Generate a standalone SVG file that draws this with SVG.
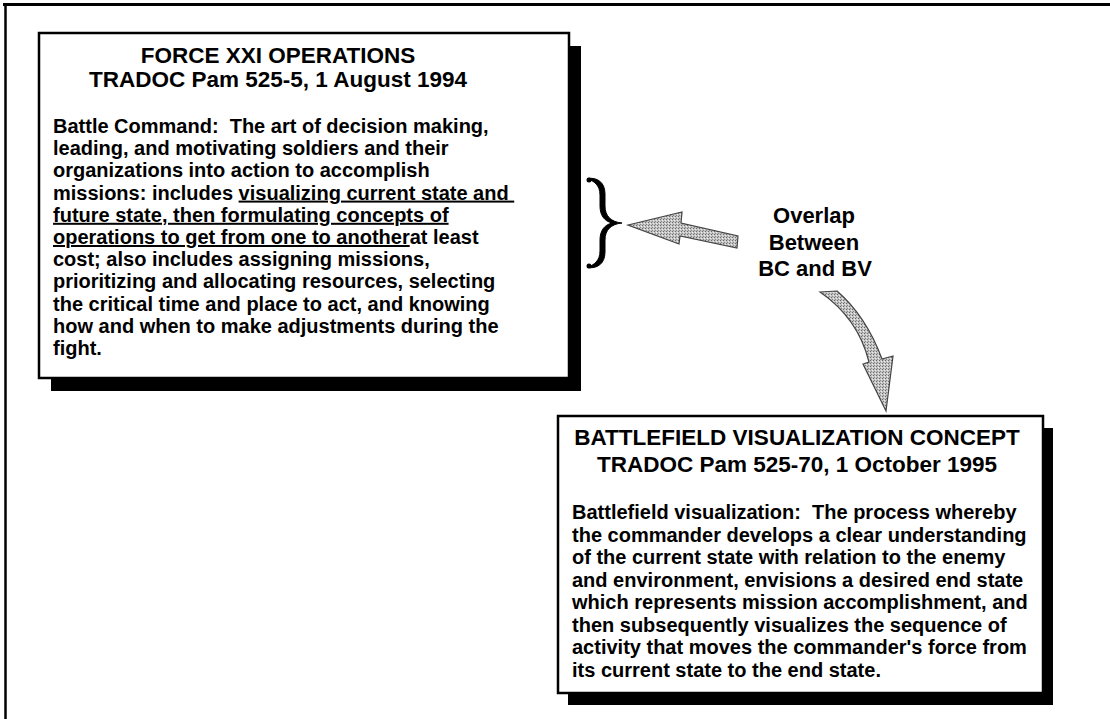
<svg xmlns="http://www.w3.org/2000/svg" width="1110" height="719" viewBox="0 0 1110 719">
<style>
  text { font-family: "Liberation Sans", Arial, Helvetica, sans-serif; font-weight: bold; fill: #000; white-space: pre; }
  .title { font-size: 22.5px; text-anchor: middle; }
  .body { font-size: 20px; }
  .lbl { font-size: 22px; text-anchor: middle; }
  .box { fill: #fff; stroke: #000; stroke-width: 2.5; }
  .shadow { fill: #000; }
  .frame { stroke: #000; fill: none; }
  .u { text-decoration: underline; }
  .arrow { fill: url(#stipple); stroke: #444; stroke-width: 1.2; stroke-linejoin: miter; }
</style>
<defs>
  <pattern id="stipple" width="3" height="3" patternUnits="userSpaceOnUse">
    <rect width="3" height="3" fill="#c4c4c4"/>
    <rect x="0" y="0" width="1" height="1" fill="#6a6a6a"/>
    <rect x="2" y="1" width="1" height="1" fill="#ececec"/>
    <rect x="1" y="2" width="1" height="1" fill="#888"/>
  </pattern>
</defs>
<rect width="1110" height="719" fill="#fff"/>

<g id="frame">
  <line class="frame" x1="3" y1="4.5" x2="1110" y2="4.5" stroke-width="3"/>
  <line class="frame" x1="5.5" y1="3" x2="5.5" y2="719" stroke-width="2.5"/>
</g>

<g id="node-force21">
  <rect class="shadow" x="51" y="46" width="530" height="345"/>
  <rect class="box" x="39" y="33" width="530" height="345"/>
  <text class="title" x="278" y="63">FORCE XXI OPERATIONS</text>
  <text class="title" x="278" y="87">TRADOC Pam 525-5, 1 August 1994</text>
  <text class="body" x="53" y="133" xml:space="preserve">Battle Command:  The art of decision making,</text>
  <text class="body" x="53" y="155.2">leading, and motivating soldiers and their</text>
  <text class="body" x="53" y="177.4">organizations into action to accomplish</text>
  <text class="body" x="53" y="199.6" xml:space="preserve">missions: includes <tspan class="u">visualizing current state and </tspan></text>
  <text class="body" x="53" y="221.8"><tspan class="u">future state, then formulating concepts of</tspan></text>
  <text class="body" x="53" y="244"><tspan class="u">operations to get from one to another</tspan>at least</text>
  <text class="body" x="53" y="266.2">cost; also includes assigning missions,</text>
  <text class="body" x="53" y="288.4">prioritizing and allocating resources, selecting</text>
  <text class="body" x="53" y="310.6">the critical time and place to act, and knowing</text>
  <text class="body" x="53" y="332.8">how and when to make adjustments during the</text>
  <text class="body" x="53" y="355">fight.</text>
</g>

<g id="node-bvc">
  <rect class="shadow" x="568" y="428" width="485" height="277"/>
  <rect class="box" x="558" y="416" width="485" height="277"/>
  <text class="title" x="797" y="445">BATTLEFIELD VISUALIZATION CONCEPT</text>
  <text class="title" x="797" y="471.5">TRADOC Pam 525-70, 1 October 1995</text>
  <text class="body" x="572" y="519" xml:space="preserve">Battlefield visualization:  The process whereby</text>
  <text class="body" x="572" y="541.5">the commander develops a clear understanding</text>
  <text class="body" x="572" y="564">of the current state with relation to the enemy</text>
  <text class="body" x="572" y="586.5">and environment, envisions a desired end state</text>
  <text class="body" x="572" y="609">which represents mission accomplishment, and</text>
  <text class="body" x="572" y="631.5">then subsequently visualizes the sequence of</text>
  <text class="body" x="572" y="654">activity that moves the commander's force from</text>
  <text class="body" x="572" y="676.5">its current state to the end state.</text>
</g>

<g id="brace">
  <path d="M587,178.5 C597,177 605,182 605,194 L605,206 C605,216 611,222 622,223 C611,224 605,230 605,240 L605,252 C605,264 597,269 587,267.5 C594,265 600,261 600,251 L600,240 C600,231 604,225 612,223 C604,221 600,215 600,206 L600,195 C600,185 594,181 587,178.5 Z" fill="#000" stroke="#000" stroke-width="1"/>
  <circle cx="589" cy="180" r="2.5" fill="#000"/>
  <circle cx="589" cy="266" r="2.5" fill="#000"/>
</g>

<g id="label-overlap">
  <text class="lbl" x="814" y="223">Overlap</text>
  <text class="lbl" x="814" y="250">Between</text>
  <text class="lbl" x="815" y="276">BC and BV</text>
</g>

<g id="connectors">
  <path class="arrow" d="M628,225 L682,212 L681,223 L738,236 L737,248 L680,236 L679,244 Z"/>
  <path class="arrow" d="M820,292 L837,291 Q866,316 882,359 L893,356 L886,411 L863,364 L869,362 Q858,318 820,292 Z"/>
</g>
</svg>
